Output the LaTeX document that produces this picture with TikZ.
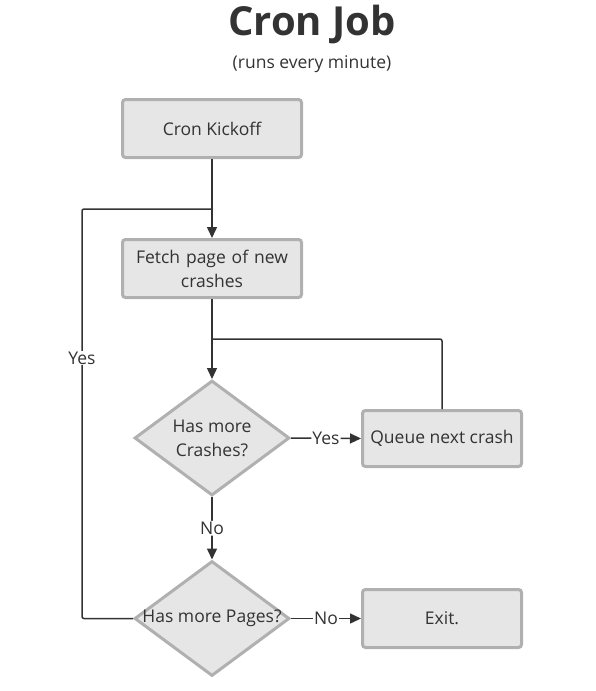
\documentclass[tikz,border=0pt]{standalone}
\usepackage{fontspec}
\setmainfont{Open Sans}
\usetikzlibrary{shapes.geometric,arrows.meta}
\definecolor{boxfill}{HTML}{E6E6E6}
\definecolor{boxline}{HTML}{B0B0B0}
\definecolor{ink}{HTML}{333333}
\tikzset{
  x=1pt,y=-1pt,
  every node/.style={text=ink,font=\fontsize{17.5}{24}\selectfont},
  procbox/.style={draw=boxline,fill=boxfill,line width=3pt,rounded corners=3pt,minimum width=179pt,minimum height=58pt,inner sep=2pt,align=center},
  decbox/.style={draw=boxline,fill=boxfill,line width=3pt,diamond,aspect=1.34,minimum width=155pt,minimum height=115pt,inner sep=0pt},
  dectext/.style={align=center,inner sep=0pt},
  conn/.style={draw=ink,line width=1.5pt,rounded corners=2pt},
  arr/.style={conn,-{Triangle[length=11pt,width=10pt]}},
  lbl/.style={fill=white,inner sep=1pt}
}
\begin{document}
\begin{tikzpicture}
\useasboundingbox (0,0) rectangle (596,691);
\node[font=\fontsize{40}{46}\bfseries\selectfont] (title) at (312,25) {Cron Job};
\node (sub) at (312,64) {(runs every minute)};
\node[procbox] (kick) at (212,128.5) {Cron Kickoff};
\node[procbox,text width=170pt] (fetch) at (212,268.5) {Fetch page of new\\crashes};
\node[decbox] (d1) at (212,438) {};
\node[dectext] (d1t) at (d1.center) {Has more\\Crashes?};
\node[procbox,minimum width=159pt,minimum height=56pt] (queue) at (442,438.5) {Queue next crash};
\node[decbox] (d2) at (212,618.5) {};
\node[dectext] (d2t) at (d2.center) {Has more Pages?};
\node[procbox,minimum width=159pt,minimum height=58pt] (exit) at (442,618.5) {Exit.};
\coordinate (j1) at (212,209);
\coordinate (j2) at (212,339);
\draw[arr] (kick.south) -- (fetch.north);
\draw[arr] (fetch.south) -- (d1.north);
\draw[conn] (queue.north) |- (j2);
\draw[conn] (d2.west) -| (82,209) -- (j1);
\node[lbl] (yesleft) at (82,358) {Yes};
\draw[arr] (d1.east) -- node[lbl] (yes1) {Yes} (queue.west);
\draw[arr] (d1.south) -- node[lbl] (no1) {No} (d2.north);
\draw[arr] (d2.east) -- node[lbl] (no2) {No} (exit.west);
\end{tikzpicture}
\end{document}
